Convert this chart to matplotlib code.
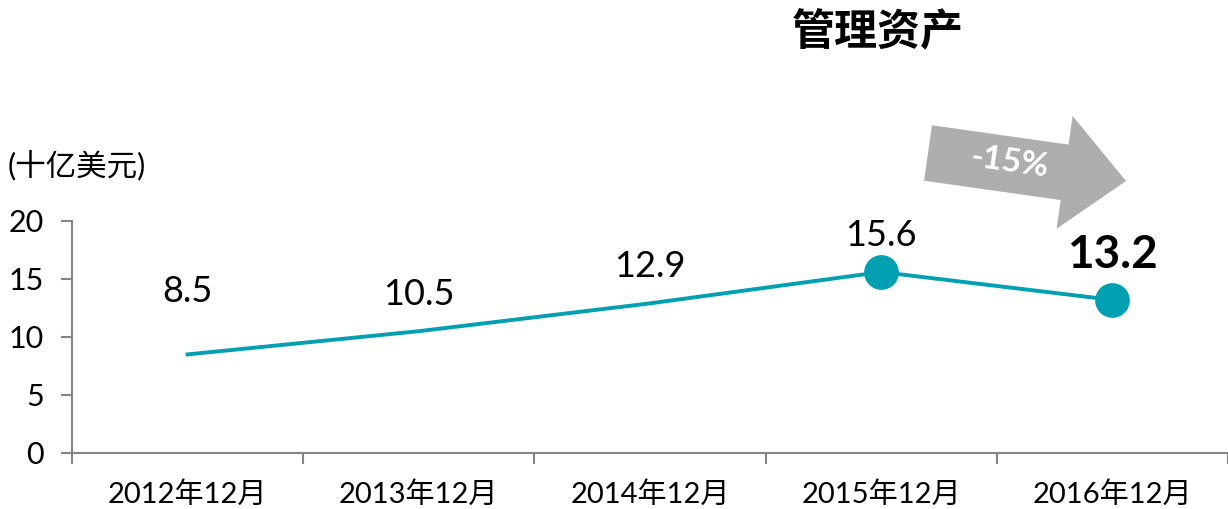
import matplotlib.pyplot as plt
from matplotlib.patches import FancyArrow

plt.rcParams['font.family'] = ['Lato', 'Noto Sans CJK SC', 'DejaVu Sans']

categories = ["2012年12月", "2013年12月", "2014年12月", "2015年12月", "2016年12月"]
values = [8.5, 10.5, 12.9, 15.6, 13.2]
yticks = [0, 5, 10, 15, 20]
title = "管理资产"
unit_label = "(十亿美元)"
change_label = "-15%"

W, H = 1228, 509
teal = "#00A0B2"
gray = "#868686"

fig = plt.figure(figsize=(W / 100, H / 100), dpi=100)
ax = fig.add_axes([72 / W, (H - 453) / H, (W - 72) / W, (453 - 221) / H])

x = list(range(len(values)))
ax.plot(x, values, color=teal, linewidth=2.8, zorder=2)
ax.plot(x[3:], values[3:], "o", color=teal, markersize=24, zorder=3)

# label gap above each point, in points
offsets = [38, 19, 19, 19, 23]
for i, v in enumerate(values):
    last = i == len(values) - 1
    ax.annotate(f"{v}", (i, v), xytext=(0, offsets[i]),
                textcoords="offset points", ha="center", va="baseline",
                fontsize=33 if last else 26, fontweight="bold" if last else "normal",
                color="black")

ax.set_xlim(-0.5, len(values) - 0.5)
ax.set_ylim(0, 20)
ax.set_yticks(yticks)
ax.set_xticks(x)
ax.set_xticklabels(categories)
ax.set_xticks([i - 0.5 for i in range(len(values) + 1)], minor=True)
ax.tick_params(axis="x", which="major", length=0, pad=20, labelsize=21)
ax.tick_params(axis="x", which="minor", length=8, color=gray, width=1.5)
ax.tick_params(axis="y", length=8, color=gray, width=1.5, labelsize=22, pad=12)
for side in ["top", "right"]:
    ax.spines[side].set_visible(False)
for side in ["left", "bottom"]:
    ax.spines[side].set_color(gray)
    ax.spines[side].set_linewidth(1.5)

# overlay in pixel units for title, unit label and arrow
ov = fig.add_axes([0, 0, 1, 1], facecolor="none")
ov.set_xlim(0, W)
ov.set_ylim(H, 0)
ov.axis("off")

ov.text(878, 32, title, ha="center", va="center", fontsize=31, fontweight="bold",
        family=["Noto Sans CJK SC"])
ov.text(8, 165, unit_label, ha="left", va="center", fontsize=22)

tail = (928, 153)
tip = (1126, 181)
arrow = FancyArrow(tail[0], tail[1], tip[0] - tail[0], tip[1] - tail[1],
                   width=56, head_width=114, head_length=62,
                   length_includes_head=True, color="#AEAEAE", linewidth=0)
ov.add_patch(arrow)
ov.text(1009, 162, change_label, ha="center", va="center", color="white",
        fontsize=24, fontweight="bold", rotation=-8)

fig.savefig("out.png", dpi=100)
